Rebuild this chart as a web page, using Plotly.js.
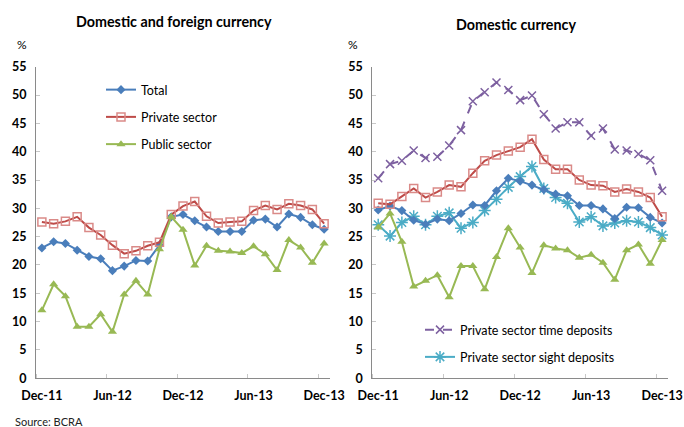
<!DOCTYPE html>
<html>
<head>
<meta charset="utf-8">
<script src="https://cdn.plot.ly/plotly-3.0.1.min.js"></script>
<style>html,body{margin:0;padding:0;background:#fff;}#chart{width:684px;height:427px;}</style>
</head>
<body>
<div id="chart"></div>
<script>
// Months Dec-11 .. Dec-13
const months = ["Dec-11","Jan-12","Feb-12","Mar-12","Apr-12","May-12","Jun-12","Jul-12","Aug-12","Sep-12","Oct-12","Nov-12",
  "Dec-12","Jan-13","Feb-13","Mar-13","Apr-13","May-13","Jun-13","Jul-13","Aug-13","Sep-13","Oct-13","Nov-13","Dec-13"];
const tickLabels = ["Dec-11","Jun-12","Dec-12","Jun-13","Dec-13"];

// Left panel: domestic and foreign currency
const leftTotal   = [23.0,24.1,23.8,22.6,21.5,21.1,19.0,19.8,20.8,20.7,23.5,28.5,28.9,27.8,26.7,25.9,25.9,25.9,27.9,28.1,26.7,29.0,28.4,27.1,26.3];
const leftPrivate = [27.6,27.3,27.7,28.5,26.6,25.3,23.5,22.0,22.5,23.4,24.0,28.9,30.4,31.2,28.6,27.4,27.6,27.7,29.6,30.5,29.8,30.8,30.5,29.8,27.3];
const leftPublic  = [12.0,16.6,14.5,9.1,9.1,11.3,8.2,14.8,17.2,14.8,22.8,28.5,26.2,19.9,23.4,22.5,22.4,22.1,23.3,21.9,19.1,24.4,23.1,20.4,23.8];

// Right panel: domestic currency
const rightTotal   = [29.7,30.4,29.6,27.9,27.2,28.1,27.8,29.1,30.6,30.5,33.1,35.3,34.8,34.1,33.3,32.5,32.2,30.5,30.5,29.9,28.2,30.2,30.1,28.4,27.4];
const rightPrivate = [30.9,30.7,32.1,33.5,31.9,32.9,34.1,33.8,36.2,38.4,39.4,40.1,40.8,42.2,38.6,36.9,36.9,35.0,34.1,34.0,32.9,33.4,32.9,31.9,28.5];
const rightPublic  = [26.6,29.1,24.1,16.2,17.2,18.2,14.3,19.8,19.8,15.7,21.4,26.5,23.1,18.6,23.5,22.9,22.6,21.3,21.8,20.4,17.4,22.6,23.6,20.2,24.4];
const timeDeposits = [35.3,37.8,38.4,40.2,38.9,39.1,41.1,43.8,48.9,50.5,52.2,50.9,49.1,49.9,46.6,44.1,45.2,45.2,42.8,44.1,40.4,40.2,39.6,38.5,33.1];
const sightDeposits= [27.1,25.1,27.5,28.6,27.1,28.6,29.2,26.5,27.5,29.6,31.6,33.7,35.6,37.4,33.5,31.9,30.9,27.6,28.5,26.9,27.4,27.8,27.6,26.6,25.3];

const x = months.map((m, i) => i);
const tickPos = tickLabels.map(l => months.indexOf(l));

const BLUE = '#4A7EBB', RED = '#BE4B48', PINK = '#DA8A88', GREEN = '#98B954', PURPLE = '#7D60A0', CYAN = '#4BACC6';

function total(xa, ya, show) {
  return {x, y: xa === 'x' ? leftTotal : rightTotal, xaxis: xa, yaxis: ya, name: 'Total', mode: 'lines+markers',
    line: {color: BLUE, width: 2}, marker: {symbol: 'diamond', size: 7, color: BLUE}, showlegend: show, legend: 'legend', legendgroup: 'a'};
}
function priv(xa, ya, show) {
  return {x, y: xa === 'x' ? leftPrivate : rightPrivate, xaxis: xa, yaxis: ya, name: 'Private sector', mode: 'lines+markers',
    line: {color: RED, width: 2}, marker: {symbol: 'square-open', size: 8, color: PINK, line: {width: 1.5}}, showlegend: show, legend: 'legend', legendgroup: 'b'};
}
function pub(xa, ya, show) {
  return {x, y: xa === 'x' ? leftPublic : rightPublic, xaxis: xa, yaxis: ya, name: 'Public sector', mode: 'lines+markers',
    line: {color: GREEN, width: 2}, marker: {symbol: 'triangle-up', size: 8, color: GREEN}, showlegend: show, legend: 'legend', legendgroup: 'c'};
}

const traces = [
  total('x', 'y', true), priv('x', 'y', true), pub('x', 'y', true),
  {x, y: timeDeposits, xaxis: 'x2', yaxis: 'y2', name: 'Private sector time deposits', mode: 'lines+markers',
    line: {color: PURPLE, width: 2, dash: 'dash'}, marker: {symbol: 'x-thin-open', size: 8, color: PURPLE, line: {width: 1.5}},
    legend: 'legend2', legendgroup: 'd'},
  {x, y: sightDeposits, xaxis: 'x2', yaxis: 'y2', name: 'Private sector sight deposits', mode: 'lines+markers',
    line: {color: CYAN, width: 2}, marker: {symbol: 'asterisk-open', size: 10, color: CYAN, line: {width: 1.5}},
    legend: 'legend2', legendgroup: 'e'},
  total('x2', 'y2', false), priv('x2', 'y2', false), pub('x2', 'y2', false)
];

const tickFont = {family: 'Lato, sans-serif', size: 12.5, color: '#000', weight: 'bold'};
function xax(domain, anchor) {
  return {domain, anchor, range: [-0.5, 24.5], tickmode: 'array', tickvals: tickPos, ticktext: tickLabels,
    ticks: '', showgrid: false, zeroline: false, showline: true, linecolor: '#8a8a8a', linewidth: 1,
    tickfont: tickFont, ticklabelstandoff: 6,
    minor: {tick0: -0.5, dtick: 6, ticks: 'inside', ticklen: 4, tickcolor: '#c8c8c8', tickwidth: 1, showgrid: false}};
}
function yax(domain, anchor) {
  return {domain, anchor, range: [0, 55], dtick: 5, tick0: 0, ticks: 'inside', ticklen: 4, tickcolor: '#c8c8c8',
    showgrid: false, zeroline: false, showline: true, linecolor: '#8a8a8a', linewidth: 1,
    tickfont: tickFont, ticklabelstandoff: 6};
}
const yDom = [48.7/427, 360.3/427];

const layout = {
  width: 684, height: 427, margin: {l: 0, r: 0, t: 0, b: 0},
  paper_bgcolor: '#fff', plot_bgcolor: '#fff', showlegend: true,
  xaxis: xax([36/684, 330/684], 'y'),
  yaxis: yax(yDom, 'x'),
  xaxis2: xax([372.3/684, 668/684], 'y2'),
  yaxis2: yax(yDom, 'x2'),
  legend: {x: 101/684, y: 1 - 75/427, xanchor: 'left', yanchor: 'top', bgcolor: 'rgba(0,0,0,0)',
    font: {family: 'Lato, sans-serif', size: 12.5, color: '#000'}, traceorder: 'grouped', tracegroupgap: 8, itemwidth: 30},
  legend2: {x: 420/684, y: 1 - 315/427, xanchor: 'left', yanchor: 'top', bgcolor: 'rgba(0,0,0,0)',
    font: {family: 'Lato, sans-serif', size: 12.5, color: '#000'}, traceorder: 'grouped', tracegroupgap: 8, itemwidth: 30},
  annotations: [
    {text: 'Domestic and foreign currency', xref: 'paper', yref: 'paper', x: 174/684, y: 1 - 21/427, showarrow: false,
      xanchor: 'center', yanchor: 'middle', font: {family: 'Lato, sans-serif', size: 14.3, color: '#000', weight: 'bold'}},
    {text: 'Domestic currency', xref: 'paper', yref: 'paper', x: 516/684, y: 1 - 25/427, showarrow: false,
      xanchor: 'center', yanchor: 'middle', font: {family: 'Lato, sans-serif', size: 14.3, color: '#000', weight: 'bold'}},
    {text: '%', xref: 'paper', yref: 'paper', x: 22/684, y: 1 - 44/427, showarrow: false, xanchor: 'center', yanchor: 'middle',
      font: {family: 'Lato, sans-serif', size: 12, color: '#000'}},
    {text: '%', xref: 'paper', yref: 'paper', x: 353/684, y: 1 - 44/427, showarrow: false, xanchor: 'center', yanchor: 'middle',
      font: {family: 'Lato, sans-serif', size: 12, color: '#000'}},
    {text: 'Source: BCRA', xref: 'paper', yref: 'paper', x: 13/684, y: 1 - 421/427, showarrow: false, xanchor: 'left', yanchor: 'middle',
      font: {family: 'Lato, sans-serif', size: 11, color: '#222'}}
  ]
};

Plotly.newPlot('chart', traces, layout, {staticPlot: true, displayModeBar: false});
</script>
</body>
</html>
